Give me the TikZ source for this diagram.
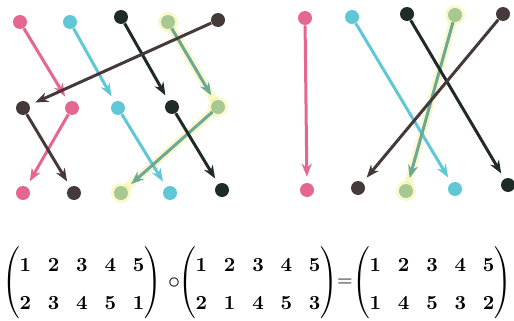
\documentclass[tikz,border=0pt]{standalone}
\usepackage{amsmath}
\usetikzlibrary{arrows.meta}
\definecolor{rose}{HTML}{E5668F}
\definecolor{sky}{HTML}{5FC7D6}
\definecolor{coal}{HTML}{1F2B29}
\definecolor{sage}{HTML}{6BA89B}
\definecolor{umber}{HTML}{45393A}
\definecolor{glow}{HTML}{F3F08A}
\renewcommand{\arraystretch}{1.6}
\setlength{\arraycolsep}{4.2pt}

\begin{document}
\begin{tikzpicture}[x=0.5pt,y=-0.5pt,>={Stealth[length=6.5pt,width=5pt]},
  dot/.style={circle,inner sep=0pt,minimum size=7pt},
  arr/.style={->,line width=1.5pt,shorten >=3pt},
  halo/.style={line width=4pt,glow,opacity=0.45},
  perm/.style={font=\boldmath}]
\useasboundingbox (0,0) rectangle (514,321);
% left: two steps
\foreach \n/\x/\y/\c in {t1/20/22/rose,t2/70/22/sky,t3/121/17/coal,t4/168/22/sage,t5/218/20/umber,
  m1/23/108/umber,m2/72/108/rose,m3/118/108/sky,m4/172/107/coal,m5/218/107/sage,
  b1/23/193/rose,b2/74/193/umber,b3/121/193/sage,b4/170/193/sky,b5/222/190/coal}{
\node[dot,fill=\c] (\n) at (\x,\y) {};}
% right: the product
\foreach \n/\x/\y/\c in {r1/305/18/rose,r2/352/17/sky,r3/407/14/coal,r4/455/15/sage,r5/503/14/umber,
  s1/307/190/rose,s2/358/188/umber,s3/406/191/sage,s4/455/189/sky,s5/508/185/coal}{
\node[dot,fill=\c] (\n) at (\x,\y) {};}
\foreach \n in {t4,m5,b3,r4,s3}{
\fill[glow,opacity=0.45] (\n) circle(5pt);}
\draw[halo] (t4)--(m5);
\draw[halo] (m5)--(b3);
\draw[halo] (r4)--(s3);
\draw[arr,rose] (t1)--(m2);
\draw[arr,rose] (m2)--(b1);
\draw[arr,sky] (t2)--(m3);
\draw[arr,sky] (m3)--(b4);
\draw[arr,sage] (t4)--(m5);
\draw[arr,sage] (m5)--(b3);
\draw[arr,coal] (t3)--(m4);
\draw[arr,coal] (m4)--(b5);
\draw[arr,umber] (t5)--(m1);
\draw[arr,umber] (m1)--(b2);
\draw[arr,rose] (r1)--(s1);
\draw[arr,sky] (r2)--(s4);
\draw[arr,sage] (r4)--(s3);
\draw[arr,coal] (r3)--(s5);
\draw[arr,umber] (r5)--(s2);
% the equation
\node[perm] (sig) at (82,283) {$\begin{pmatrix}1&2&3&4&5\\2&3&4&5&1\end{pmatrix}$};
\node[inner sep=0pt] (op) at (174,283) {\large$\circ$};
\node[perm] (tau) at (258,283) {$\begin{pmatrix}1&2&3&4&5\\2&1&4&5&3\end{pmatrix}$};
\node[inner sep=0pt] (eq) at (345,283) {$=$};
\node[perm] (prod) at (432,283) {$\begin{pmatrix}1&2&3&4&5\\1&4&5&3&2\end{pmatrix}$};
\end{tikzpicture}
\end{document}
